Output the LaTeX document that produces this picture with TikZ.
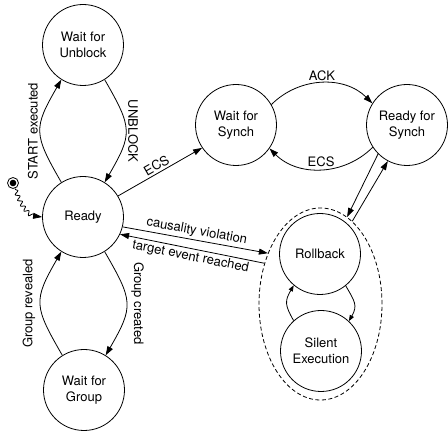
\documentclass[tikz,border=0pt]{standalone}
\usepackage{fontspec}
\setmainfont{TeX Gyre Heros}
\usetikzlibrary{arrows.meta,shapes.geometric,decorations.pathmorphing}
\begin{document}
\begin{tikzpicture}[x=1pt,y=1pt,
  state/.style={circle,draw,line width=0.8pt,minimum size=81pt,inner sep=0pt,align=center,font=\fontsize{13}{16}\selectfont},
  lbl/.style={font=\fontsize{13}{15}\selectfont,inner sep=2pt},
  tr/.style={-{Triangle[length=9pt,width=6pt]},line width=0.8pt},
  trs/.style={-{Triangle[length=6pt,width=4.5pt]},line width=0.8pt},
  grpbox/.style={ellipse,draw,line width=0.8pt,dash pattern=on 4pt off 2.5pt,minimum width=123pt,minimum height=192pt,inner sep=0pt}
]
\useasboundingbox (0,0) rectangle (448,-435);

\node[grpbox] (grp) at (320.5,-304) {};

\node[state] (wfu) at (83,-45) {Wait for\\Unblock};
\node[state] (ready) at (83,-217) {Ready};
\node[state] (wfg) at (84,-390) {Wait for\\Group};
\node[state] (wfs) at (236,-125) {Wait for\\Synch};
\node[state] (rfs) at (407,-125) {Ready for\\Synch};
\node[state] (rb) at (320,-254) {Rollback};
\node[state] (se) at (321,-351) {Silent\\Execution};

% initial marker
\node[circle,draw,line width=0.8pt,minimum size=11pt,inner sep=0pt] (init) at (13,-183) {};
\fill (init.center) circle (3.3pt);
\draw[tr,decorate,decoration={snake,amplitude=2pt,segment length=6pt,pre length=1pt,post length=6pt}]
  (init.-70) to[out=-70,in=180] (ready.180);

% left column
\draw[tr] (ready.122) to[out=120,in=240,looseness=1.4]
  node[lbl,rotate=90,anchor=south]{START executed} (wfu.238);
\draw[tr] (wfu.-58) to[out=-60,in=60,looseness=1.4]
  node[lbl,rotate=-90,anchor=south]{UNBLOCK} (ready.58);
\draw[tr] (ready.-58) to[out=-60,in=60,looseness=1.4]
  node[lbl,inner sep=4.5pt,rotate=-90,anchor=south]{Group created} (wfg.58);
\draw[tr] (wfg.122) to[out=120,in=240,looseness=1.4]
  node[lbl,inner sep=5pt,rotate=90,anchor=south]{Group revealed} (ready.238);

% synch
\draw[tr] (ready.31) -- node[lbl,sloped,above]{ECS} (wfs.214);
\draw[tr] (wfs.30) to[out=45,in=135] node[lbl,above]{ACK} (rfs.148);
\draw[tr] (rfs.213) to[out=225,in=-45] node[lbl,above]{ECS} (wfs.-35);

% rollback group
\draw[tr] (rfs.225) -- (grp.73);
\draw[tr] (grp.69) -- (rfs.242);
\draw[tr] (ready.-14) -- node[lbl,sloped,above]{causality violation} (grp.136);
\draw[tr] (grp.144) -- node[lbl,sloped,below]{target event reached} (ready.-25);

% inner loop
\draw[trs] (se.132) to[out=120,in=240,looseness=1.3] (rb.230);
\draw[trs] (rb.-51) to[out=-60,in=60,looseness=1.3] (se.47);
\end{tikzpicture}
\end{document}
